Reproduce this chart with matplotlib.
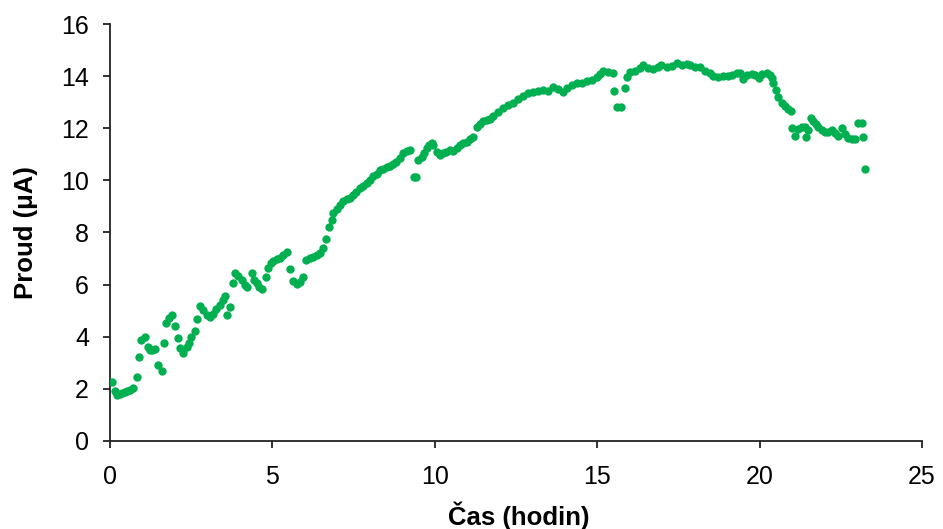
import matplotlib
matplotlib.use("Agg")
import matplotlib.pyplot as plt

plt.rcParams['font.family'] = ['Liberation Sans', 'DejaVu Sans']

cas = [0.07, 0.15, 0.22, 0.30, 0.38, 0.46, 0.54, 0.62, 0.72, 0.82, 0.90, 0.97, 1.08, 1.16, 1.23,
       1.30, 1.40, 1.49, 1.59, 1.66, 1.74, 1.82, 1.90, 2.00, 2.08, 2.15, 2.26, 2.36, 2.44, 2.51,
       2.62, 2.69, 2.77, 2.87, 2.98, 3.08, 3.18, 3.28, 3.39, 3.47, 3.54, 3.59, 3.69, 3.78, 3.85,
       3.95, 4.05, 4.16, 4.23, 4.36, 4.43, 4.52, 4.60, 4.67, 4.79, 4.87, 4.95, 5.03, 5.13, 5.23,
       5.34, 5.46, 5.54, 5.64, 5.75, 5.85, 5.95, 6.03, 6.16, 6.26, 6.36, 6.47, 6.57, 6.65, 6.74,
       6.83, 6.87, 6.98, 7.08, 7.18, 7.29, 7.39, 7.49, 7.59, 7.70, 7.80, 7.90, 8.01, 8.11, 8.21,
       8.31, 8.41, 8.52, 8.62, 8.72, 8.82, 8.93, 9.03, 9.13, 9.24, 9.36, 9.42, 9.49, 9.60, 9.68,
       9.75, 9.83, 9.90, 9.95, 10.06, 10.16, 10.26, 10.36, 10.47, 10.57, 10.67, 10.78, 10.88,
       10.98, 11.08, 11.19, 11.29, 11.39, 11.49, 11.60, 11.70, 11.80, 11.95, 12.11, 12.26,
       12.42, 12.57, 12.72, 12.88, 13.03, 13.19, 13.34, 13.49, 13.65, 13.80, 13.96, 14.06,
       14.21, 14.37, 14.52, 14.68, 14.83, 14.98, 15.09, 15.19, 15.34, 15.48, 15.52, 15.60,
       15.72, 15.86, 15.91, 16.01, 16.16, 16.32, 16.42, 16.57, 16.73, 16.88, 16.98, 17.14,
       17.29, 17.45, 17.60, 17.76, 17.86, 18.01, 18.16, 18.32, 18.47, 18.57, 18.73, 18.88,
       19.04, 19.14, 19.30, 19.40, 19.48, 19.60, 19.76, 19.86, 19.99, 20.07, 20.22, 20.32,
       20.37, 20.42, 20.50, 20.57, 20.68, 20.78, 20.88, 20.96, 20.99, 21.09, 21.19, 21.30,
       21.40, 21.43, 21.50, 21.57, 21.65, 21.74, 21.81, 21.91, 22.01, 22.12, 22.22, 22.32,
       22.42, 22.53, 22.63, 22.73, 22.84, 22.94, 23.04, 23.14, 23.19, 23.25]

proud = [2.25, 1.93, 1.77, 1.82, 1.85, 1.88, 1.90, 1.95, 2.02, 2.44, 3.24, 3.88, 4.00, 3.62, 3.49,
         3.50, 3.52, 2.92, 2.70, 3.77, 4.54, 4.70, 4.83, 4.41, 3.94, 3.56, 3.39, 3.62, 3.75, 4.00,
         4.23, 4.67, 5.18, 5.03, 4.83, 4.75, 4.87, 5.05, 5.22, 5.41, 5.56, 4.83, 5.13, 6.05, 6.46,
         6.33, 6.18, 5.99, 5.92, 6.43, 6.18, 6.05, 5.92, 5.82, 6.28, 6.63, 6.84, 6.92, 6.97, 7.01,
         7.14, 7.26, 6.59, 6.14, 6.02, 6.11, 6.30, 6.95, 7.01, 7.07, 7.14, 7.20, 7.39, 7.75, 8.20,
         8.48, 8.74, 8.89, 9.06, 9.21, 9.28, 9.34, 9.44, 9.57, 9.70, 9.79, 9.89, 10.02, 10.15, 10.25,
         10.38, 10.43, 10.51, 10.56, 10.63, 10.69, 10.86, 11.05, 11.12, 11.18, 10.14, 10.14, 10.78,
         10.91, 11.05, 11.23, 11.35, 11.42, 11.36, 11.10, 10.97, 11.04, 11.10, 11.17, 11.14, 11.23,
         11.36, 11.42, 11.49, 11.58, 11.68, 12.06, 12.15, 12.28, 12.30, 12.35, 12.48, 12.64,
         12.77, 12.90, 12.98, 13.11, 13.24, 13.34, 13.40, 13.44, 13.47, 13.44, 13.59, 13.50,
         13.40, 13.53, 13.66, 13.72, 13.75, 13.82, 13.85, 13.98, 14.08, 14.21, 14.17, 14.13,
         13.44, 12.83, 12.83, 13.53, 13.98, 14.17, 14.21, 14.30, 14.43, 14.30, 14.26, 14.36,
         14.43, 14.34, 14.39, 14.52, 14.43, 14.47, 14.43, 14.36, 14.34, 14.21, 14.11, 14.01,
         13.98, 14.01, 14.01, 14.04, 14.11, 14.13, 13.88, 14.04, 14.08, 14.04, 13.92, 14.08,
         14.11, 14.04, 13.92, 13.73, 13.47, 13.21, 12.96, 12.86, 12.73, 12.67, 12.00, 11.70,
         11.96, 12.06, 12.04, 11.65, 11.93, 12.38, 12.29, 12.16, 12.03, 11.93, 11.87, 11.87,
         11.93, 11.81, 11.70, 12.00, 11.78, 11.62, 11.58, 11.58, 12.19, 12.21, 11.65, 10.43]

fig = plt.figure(figsize=(9.43, 5.29), dpi=100)
ax = fig.add_axes([0.1166, 0.1664, 0.8611, 0.7882])

ax.scatter(cas, proud, s=36, color='#00B050', linewidths=0, zorder=3)

ax.set_xlim(0, 25)
ax.set_ylim(0, 16)
ax.set_xticks(range(0, 26, 5))
ax.set_yticks(range(0, 17, 2))

ax.spines['top'].set_visible(False)
ax.spines['right'].set_visible(False)
for s in ('left', 'bottom'):
    ax.spines[s].set_linewidth(1.3)
    ax.spines[s].set_color('#222222')
ax.tick_params(direction='out', length=5, width=1.3, color='#222222', labelsize=18)
ax.tick_params(axis='y', pad=10)
ax.tick_params(axis='x', pad=12)

ax.set_xlabel('Čas (hodin)', fontsize=18.5, fontweight='bold')
ax.set_ylabel('Proud (μA)', fontsize=18.5, fontweight='bold')
ax.xaxis.set_label_coords(0.503, -0.145)
ax.yaxis.set_label_coords(-0.088, 0.5)

fig.savefig('out.png', dpi=100)
